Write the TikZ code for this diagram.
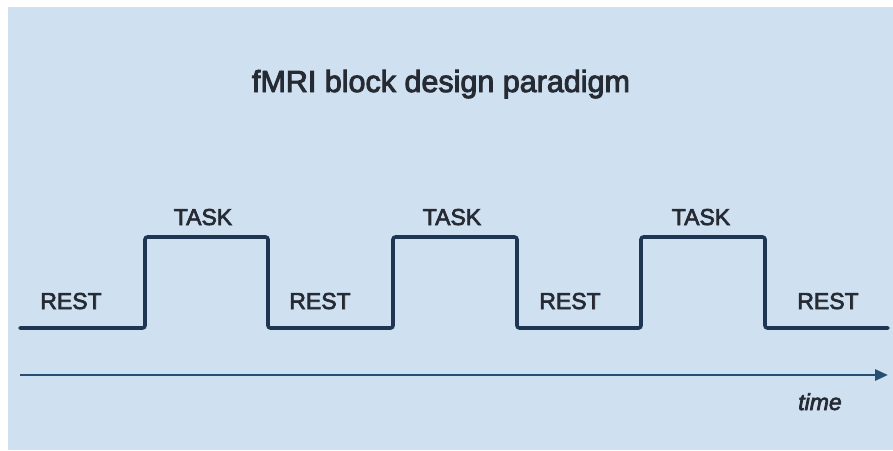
\documentclass[tikz,border=0pt]{standalone}
\usepackage{fontspec}
\setmainfont{Liberation Sans}
\newfontfamily\labelfont{Liberation Sans}[UprightFeatures={FakeBold=3},ItalicFeatures={FakeBold=3}]
\usetikzlibrary{arrows.meta}
\definecolor{panelblue}{HTML}{CFE0F1}
\definecolor{wave}{HTML}{1F3652}
\definecolor{axis}{HTML}{264F73}
\definecolor{ink}{HTML}{262A33}
\tikzset{
  x=1pt, y=-1pt,
  phase/.style={text=ink, font=\labelfont\fontsize{23}{23}\selectfont, anchor=base, inner sep=0pt},
  signal/.style={draw=wave, line width=3.6pt, rounded corners=2.5pt, line cap=round},
  timeaxis/.style={draw=axis, line width=2.8pt, -{Triangle[length=13pt,width=11pt]}},
}
\begin{document}
\begin{tikzpicture}
  % page and panel
  \fill[white] (0,0) rectangle (893,450);
  \useasboundingbox (0,0) rectangle (893,450);
  \fill[panelblue] (8,7) rectangle (893,450);

  % title
  \node[text=ink, font=\labelfont\fontsize{30.5}{30.5}\selectfont, anchor=base, inner sep=0pt]
    (title) at (441,92) {fMRI block design paradigm};

  % block-design boxcar signal
  \coordinate (s0) at (20,328);
  \coordinate (s1) at (888,328);
  \draw[signal] (s0) -- (145,328) -- (145,237) -- (268,237) -- (268,328)
    -- (393,328) -- (393,237) -- (517,237) -- (517,328)
    -- (641,328) -- (641,237) -- (765,237) -- (765,328) -- (s1);

  % condition labels
  \node[phase] (rest1) at (71,309)  {REST};
  \node[phase] (task1) at (203,225) {TASK};
  \node[phase] (rest2) at (320,309) {REST};
  \node[phase] (task2) at (452,225) {TASK};
  \node[phase] (rest3) at (570,309) {REST};
  \node[phase] (task3) at (701,225) {TASK};
  \node[phase] (rest4) at (828,309) {REST};

  % time axis
  \coordinate (t0) at (20,375);
  \coordinate (t1) at (888,375);
  \draw[timeaxis] (t0) -- (t1);
  \node[text=ink, font=\labelfont\fontsize{23}{23}\selectfont\itshape, anchor=base, inner sep=0pt]
    (time) at (820,410) {time};
\end{tikzpicture}
\end{document}
